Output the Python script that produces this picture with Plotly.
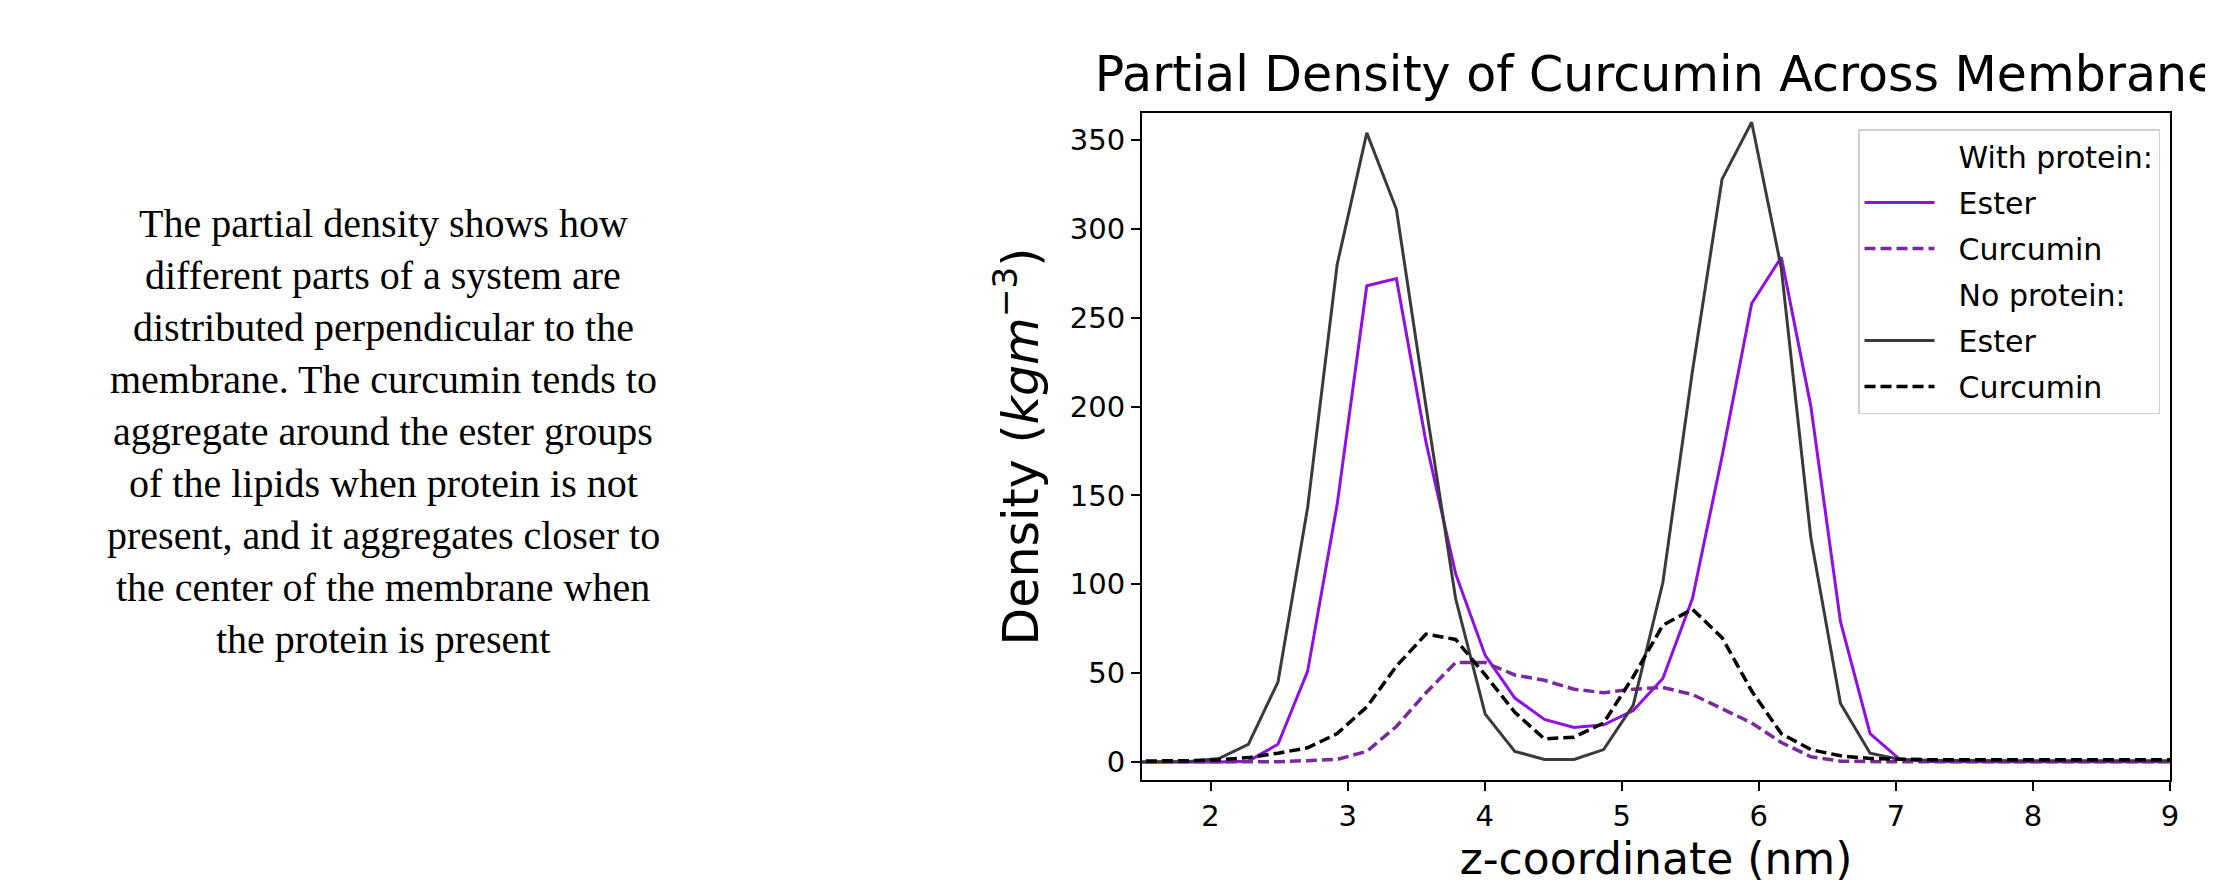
import plotly.graph_objects as go

# z-coordinate grid (nm)
z_nm = [1.412, 1.628, 1.844, 2.060, 2.276, 2.492, 2.708, 2.924, 3.140, 3.356,
        3.572, 3.788, 4.004, 4.220, 4.436, 4.652, 4.868, 5.084, 5.300, 5.516,
        5.732, 5.948, 6.164, 6.380, 6.596, 6.812, 7.028, 7.244, 7.460, 7.676,
        7.892, 8.108, 8.324, 8.540, 8.756, 8.972, 9.188]

# With protein
ester_with = [0, 0, 0, 0, 0.5, 10, 51, 145, 268, 272,
              180, 106, 60, 36, 24, 19.5, 21, 29, 47, 92,
              172, 258, 284, 200, 79, 16, 1.5, 0.3, 0.2, 0.2,
              0.2, 0.2, 0.2, 0.2, 0.2, 0.2, 0.2]
curc_with = [0.2, 0.2, 0.2, 0.2, 0.2, 0.2, 0.8, 1.5, 6, 20,
             39, 56, 56, 49, 46, 41, 39, 41, 42, 38,
             30, 22, 11, 3, 0.5, 0.2, 0.1, 0.1, 0.1, 0.1,
             0.1, 0.1, 0.1, 0.1, 0.1, 0.1, 0.1]

# No protein
ester_no = [0, 0, 0.3, 2, 10, 45, 143, 280, 354, 311,
            200, 92, 27, 6, 1.5, 1.5, 7, 32, 101, 220,
            328, 360, 278, 126, 33, 5, 1.5, 1, 0.8, 0.8,
            0.8, 0.8, 0.8, 0.8, 0.8, 0.8, 0.8]
curc_no = [0.5, 0.5, 0.8, 1.2, 2.5, 5, 8, 16, 31, 54,
           72, 69, 49, 28, 13, 14, 22, 48, 77, 86,
           70, 40, 16, 7, 3.5, 2, 1.5, 1.3, 1.3, 1.3,
           1.3, 1.3, 1.3, 1.3, 1.3, 1.3, 1.3]

x_ticks = [2, 3, 4, 5, 6, 7, 8, 9]
y_ticks = [0, 50, 100, 150, 200, 250, 300, 350]

side_text = [
    "The partial density shows how",
    "different parts of a system are",
    "distributed perpendicular to the",
    "membrane. The curcumin tends to",
    "aggregate around the ester groups",
    "of the lipids when protein is not",
    "present, and it aggregates closer to",
    "the center of the membrane when",
    "the protein is present",
]

PURPLE = "#8f0fe6"
PURPLE_D = "#7a2a9e"
GRAY = "#3a3a3a"
BLACK = "#000000"
DASH = "11px,5px"
GAP = "\u00a0\u00a0"

fig = go.Figure()

def header(name, g):
    fig.add_trace(go.Scatter(x=[None], y=[None], mode="lines", name=GAP + name,
                             line=dict(color="rgba(255,255,255,0)", width=1),
                             legendgroup=g, hoverinfo="skip"))

header("With protein:", "g1")
fig.add_trace(go.Scatter(x=z_nm, y=ester_with, mode="lines", name=GAP + "Ester",
                         legendgroup="g2",
                         line=dict(color=PURPLE, width=3)))
fig.add_trace(go.Scatter(x=z_nm, y=curc_with, mode="lines", name=GAP + "Curcumin",
                         legendgroup="g3",
                         line=dict(color=PURPLE_D, width=3.5, dash=DASH)))
header("No protein:", "g4")
fig.add_trace(go.Scatter(x=z_nm, y=ester_no, mode="lines", name=GAP + "Ester",
                         legendgroup="g5",
                         line=dict(color=GRAY, width=3)))
fig.add_trace(go.Scatter(x=z_nm, y=curc_no, mode="lines", name=GAP + "Curcumin",
                         legendgroup="g6",
                         line=dict(color=BLACK, width=3.5, dash=DASH)))

W, H = 2213, 880
L, R, T, B = 1134, 2162, 105, 772

fig.update_layout(
    width=W, height=H,
    margin=dict(l=L, r=W - R, t=T, b=H - B, autoexpand=False),
    paper_bgcolor="white", plot_bgcolor="white",
    font=dict(family="DejaVu Sans", color="black", size=29),
    title=dict(text="Partial Density of Curcumin Across Membrane",
               x=0.5, xref="paper", xanchor="center",
               y=1 - 66 / H, yref="container", yanchor="middle",
               font=dict(size=49, family="DejaVu Sans", color="black")),
    showlegend=True,
    legend=dict(x=(2152 - L) / (R - L), xanchor="right",
                y=(B - 121) / (B - T), yanchor="top",
                bgcolor="rgba(255,255,255,0.9)", bordercolor="#d0d0d0",
                borderwidth=1.5, font=dict(size=30, family="DejaVu Sans"),
                tracegroupgap=4, traceorder="grouped",
                itemwidth=70),
)

fig.update_xaxes(range=[1.5, 9], tickvals=x_ticks, ticks="outside", ticklen=9,
                 tickwidth=2, tickcolor="black", showline=True, linecolor="black",
                 linewidth=2, mirror=True, showgrid=False, zeroline=False,
                 tickfont=dict(size=29),
                 title=dict(text="z-coordinate (nm)", font=dict(size=44), standoff=0))
fig.update_yaxes(range=[-10.1, 365.2], tickvals=y_ticks, ticks="outside", ticklen=9,
                 tickwidth=2, tickcolor="black", showline=True, linecolor="black",
                 linewidth=2, mirror=True, showgrid=False, zeroline=False,
                 tickfont=dict(size=29),
                 title=dict(text="Density (<i>kgm</i><sup>−3</sup>)",
                            font=dict(size=49), standoff=16))

y0 = 215
for i, line in enumerate(side_text):
    fig.add_annotation(text=line, xref="paper", yref="paper",
                       x=(375 - L) / (R - L),
                       y=(B - (y0 + i * 52)) / (B - T),
                       xanchor="center", yanchor="middle", showarrow=False,
                       font=dict(family="Liberation Serif", size=40, color="black"))

fig.write_html("out.html")
